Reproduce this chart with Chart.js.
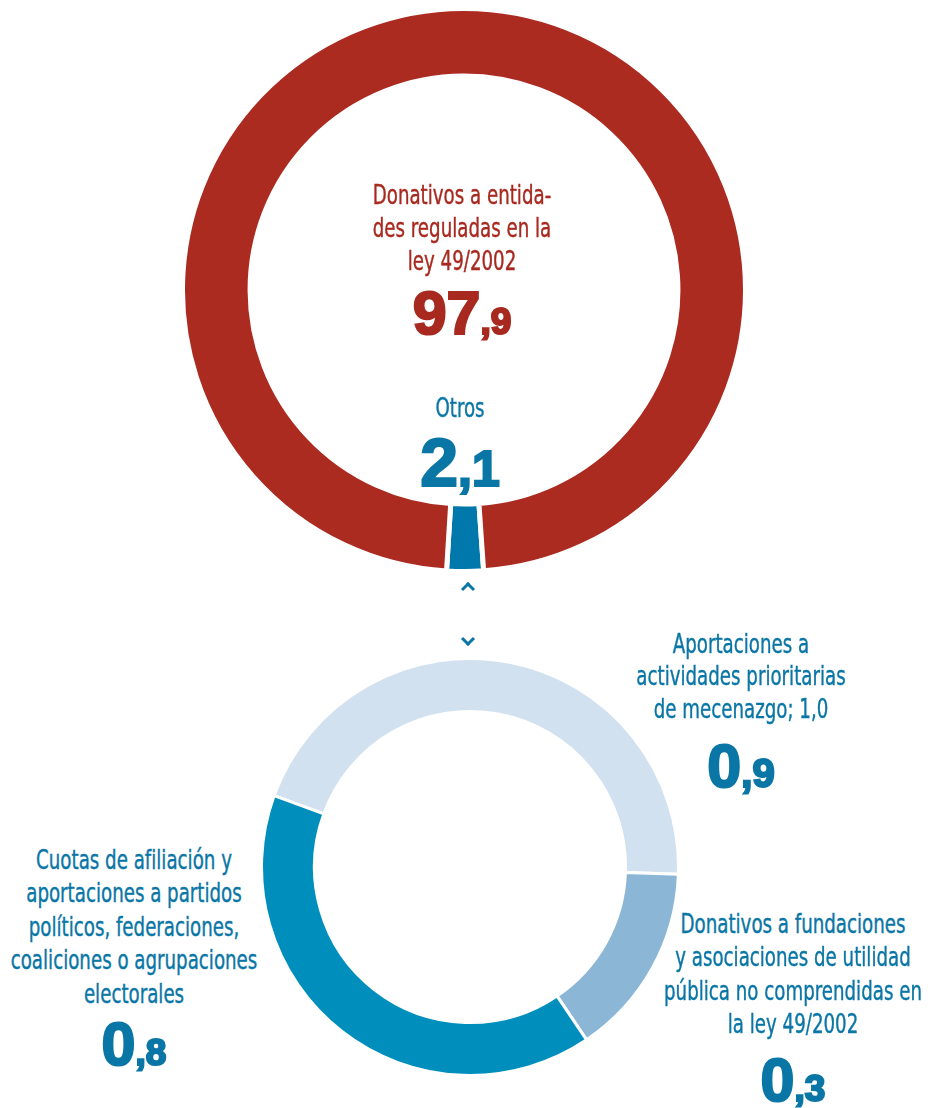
<!DOCTYPE html>
<html lang="es">
<head>
<meta charset="utf-8">
<script src="https://cdn.jsdelivr.net/npm/chart.js@4.4.1/dist/chart.umd.min.js"></script>
<style>
  body { margin: 0; background: #fff; }
  #page { position: relative; width: 928px; height: 1108px; overflow: hidden;
          font-family: "DejaVu Sans Condensed", "DejaVu Sans", sans-serif; }
  canvas { position: absolute; }
  .txt { position: absolute; width: 400px; text-align: center; white-space: nowrap; line-height: 0; }
  .lbl { transform: scaleX(0.75); -webkit-text-stroke: 0.4px currentColor; }
  .num { font-family: "Liberation Sans", Arial, sans-serif; font-weight: bold; -webkit-text-stroke: 2.2px currentColor; }
  .chev { position: absolute; width: 7px; height: 7px; border-color: #0a76a6; border-style: solid; border-width: 3px 0 0 3px; }
</style>
</head>
<body>
<div id="page">
  <canvas id="total" width="568" height="568" style="left:180px; top:6px"></canvas>
  <canvas id="otros" width="420" height="420" style="left:260px; top:657px"></canvas>
</div>
<script>
// reparto total (%)
const totalLabels = ["Otros", "Donativos a entidades reguladas en la ley 49/2002"];
const totalValues = [2.1, 97.9];
const totalColors = ["#0078ab", "#ab2b20"];

// desglose de "Otros"
const otrosLabels = [
  "Aportaciones a actividades prioritarias de mecenazgo; 1,0",
  "Donativos a fundaciones y asociaciones de utilidad pública no comprendidas en la ley 49/2002",
  "Cuotas de afiliación y aportaciones a partidos políticos, federaciones, coaliciones o agrupaciones electorales",
];
const otrosValues = [0.9, 0.3, 0.8];
const otrosColors = ["#d1e1ef", "#8bb6d6", "#008fbc"];

// lineas de texto tal como se cortan en el grafico
const totalLines = [
  ["Otros"],
  ["Donativos a entida-", "des reguladas en la", "ley 49/2002"],
];
const otrosLines = [
  ["Aportaciones a", "actividades prioritarias", "de mecenazgo; 1,0"],
  ["Donativos a fundaciones", "y asociaciones de utilidad", "pública no comprendidas en", "la ley 49/2002"],
  ["Cuotas de afiliación y", "aportaciones a partidos", "políticos, federaciones,", "coaliciones o agrupaciones", "electorales"],
];

const RED = "#a8291f";
const BLUE = "#0a76a6";

function ring(id, values, labels, colors, cutout, rotation, border) {
  return new Chart(document.getElementById(id), {
    type: "doughnut",
    data: {
      labels: labels,
      datasets: [{ data: values, backgroundColor: colors, borderColor: "#ffffff", borderWidth: border }],
    },
    options: {
      responsive: false,
      animation: false,
      events: [],
      cutout: cutout,
      rotation: rotation,
      plugins: { legend: { display: false }, tooltip: { enabled: false } },
    },
  });
}

ring("total", totalValues, totalLabels, totalColors, "76%", 176, 5);
ring("otros", otrosValues, otrosLabels, otrosColors, "74.6%", -70, 3);

const page = document.getElementById("page");
const K = 0.3465; // baseline offset with line-height 0

function addText(html, cx, baseline, size, color, cls) {
  const d = document.createElement("div");
  d.className = "txt " + cls;
  d.innerHTML = html;
  d.style.left = (cx - 200) + "px";
  d.style.top = (baseline - K * size) + "px";
  d.style.fontSize = size + "px";
  d.style.color = color;
  page.appendChild(d);
}

function addLabel(lines, value, pos, color) {
  lines.forEach((l, i) => {
    addText(l, pos.x, pos.y + i * pos.lh, 27, color, "lbl");
  });
  const parts = value.toFixed(1).split(".");
  addText(parts[0] + '<span style="font-size:' + pos.small + 'px">,' + parts[1] + "</span>",
    pos.x, pos.ny, pos.big, color, "num");
}

// posiciones de los rotulos
addLabel(totalLines[1], totalValues[1], { x: 462, y: 204, lh: 33.2, ny: 334, big: 61, small: 37 }, RED);
addLabel(totalLines[0], totalValues[0], { x: 460, y: 417, lh: 33, ny: 486, big: 68, small: 50 }, BLUE);
addLabel(otrosLines[0], otrosValues[0], { x: 741, y: 653, lh: 32.5, ny: 787, big: 61, small: 40 }, BLUE);
addLabel(otrosLines[1], otrosValues[1], { x: 793, y: 933, lh: 33.5, ny: 1101, big: 61, small: 37 }, BLUE);
addLabel(otrosLines[2], otrosValues[2], { x: 134, y: 869, lh: 33.5, ny: 1065, big: 61, small: 37 }, BLUE);

// flechas entre los dos anillos
function chevron(x, y, deg) {
  const c = document.createElement("div");
  c.className = "chev";
  c.style.left = (x - 5) + "px";
  c.style.top = (y - 5) + "px";
  c.style.transform = "rotate(" + deg + "deg)";
  page.appendChild(c);
}
chevron(468, 589, 45);
chevron(468, 639, 225);
</script>
</body>
</html>
